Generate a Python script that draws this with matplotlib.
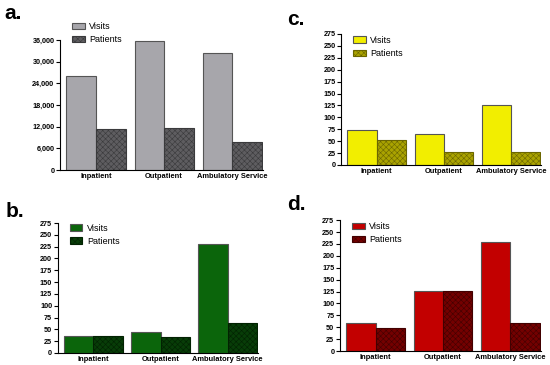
import matplotlib.pyplot as plt
import numpy as np

plt.rcParams["font.family"] = ["Liberation Sans", "DejaVu Sans"]
plt.rcParams["hatch.linewidth"] = 0.4

CATEGORIES = ["Inpatient", "Outpatient", "Ambulatory Service"]

# panel values
VISITS_A = [26100, 35700, 32400]
PATIENTS_A = [11300, 11600, 7800]
VISITS_B = [36, 44, 230]
PATIENTS_B = [35, 33, 64]
VISITS_C = [73, 64, 126]
PATIENTS_C = [52, 27, 27]
VISITS_D = [58, 127, 230]
PATIENTS_D = [48, 127, 58]

TICKS_A = [0, 6000, 12000, 18000, 24000, 30000, 36000]
TICKS_SMALL = list(range(0, 276, 25))

W, H = 550, 365

# panel: (label, visits, patients, visit colour, patient colour, hatch colour,
#         axes rect, legend anchor y, letter pos in px)
PANELS = [
    ("a.", VISITS_A, PATIENTS_A, "#a7a6ab", "#5e5d60", "#3a3a3c",
     [0.109, 0.534, 0.369, 0.356], 1.14, (4, 19)),
    ("c.", VISITS_C, PATIENTS_C, "#f2ee00", "#aaa300", "#6b6600",
     [0.620, 0.548, 0.364, 0.359], 0.985, (287, 25)),
    ("b.", VISITS_B, PATIENTS_B, "#0b650b", "#083d08", "#022202",
     [0.105, 0.033, 0.364, 0.356], 0.995, (6, 217)),
    ("d.", VISITS_D, PATIENTS_D, "#c20000", "#740000", "#420000",
     [0.618, 0.038, 0.365, 0.359], 0.985, (287, 210)),
]

fig = plt.figure(figsize=(5.5, 3.65), dpi=100)

w = 0.435
x = np.arange(len(CATEGORIES))

for label, visits, patients, vcol, pcol, hcol, rect, ly, (px, py) in PANELS:
    ax = fig.add_axes(rect)
    ax.bar(x - w / 2, visits, width=w, color=vcol, edgecolor="#555555", linewidth=0.8,
           label="Visits")
    ax.bar(x + w / 2, patients, width=w, color=pcol, edgecolor=hcol, linewidth=0.8,
           hatch="xxxxxx", label="Patients")
    ax.set_xlim(-0.53, 2.45)
    if label == "a.":
        ax.set_ylim(0, 36000)
        ax.set_yticks(TICKS_A)
        ax.set_yticklabels([f"{t:,}" for t in TICKS_A])
    else:
        ax.set_ylim(0, 275)
        ax.set_yticks(TICKS_SMALL)
    ax.legend(loc="upper left", bbox_to_anchor=(0.06, ly), frameon=False,
              fontsize=6.5, handlelength=1.4, handleheight=0.75,
              handletextpad=0.5, labelspacing=0.45, borderpad=0,
              borderaxespad=0)
    ax.set_xticks(x)
    ax.set_xticklabels(CATEGORIES, fontweight="bold", fontsize=5.4)
    ax.tick_params(axis="x", length=0, pad=2)
    ax.tick_params(axis="y", length=3, width=0.8, labelsize=5.2, pad=1)
    for t in ax.get_yticklabels():
        t.set_fontweight("bold")
    ax.spines["top"].set_visible(False)
    ax.spines["right"].set_visible(False)
    ax.spines["left"].set_linewidth(0.8)
    ax.spines["bottom"].set_linewidth(0.8)
    # panel letter
    fig.text(px / W, 1 - py / H, label, fontsize=15, fontweight="bold", va="baseline")

fig.savefig("out.png", dpi=100)
